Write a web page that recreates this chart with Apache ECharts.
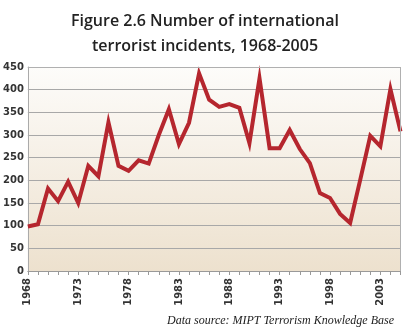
<!DOCTYPE html>
<html><head><meta charset="utf-8">
<script src="https://cdn.jsdelivr.net/npm/echarts@6/dist/echarts.min.js"></script>
<style>html,body{margin:0;padding:0;background:#fff}#c{width:410px;height:335px}</style>
</head><body><div id="c"></div>
<script>
const years = [];
for (let y = 1968; y <= 2005; y++) years.push(String(y));
const incidents = [98, 103, 182, 154, 197, 150, 232, 209, 328, 232, 221, 244, 237, 300, 357, 280, 327, 436, 378, 362, 368, 360, 282, 425, 271, 271, 311, 269, 238, 172, 161, 126, 106, 201, 298, 275, 401, 308];
const titleText = 'Figure 2.6 Number of international\nterrorist incidents, 1968-2005';
const sourceText = 'Data source: MIPT Terrorism Knowledge Base';

const chart = echarts.init(document.getElementById('c'));
chart.setOption({
  animation: false,
  title: [{
    text: titleText, left: 'center', top: 4,
    textStyle: {fontFamily: 'Open Sans', fontWeight: 600, fontSize: 16, color: '#222', lineHeight: 25}
  }, {
    text: sourceText, right: 11, top: 310,
    textStyle: {fontFamily: 'Liberation Serif', fontStyle: 'italic', fontWeight: 'normal', fontSize: 12, color: '#222'}
  }],
  grid: {
    left: 27, right: 9.5, top: 67, bottom: 64, show: true, borderWidth: 0,
    backgroundColor: new echarts.graphic.LinearGradient(0, 0, 0, 1, [
      {offset: 0, color: '#fdfcfa'}, {offset: 1, color: '#ede1ce'}])
  },
  xAxis: {
    type: 'category', data: years, boundaryGap: false,
    axisLine: {lineStyle: {color: '#999', width: 1}},
    axisTick: {interval: 0, length: 4, lineStyle: {color: '#999'}},
    axisLabel: {interval: 4, rotate: 90, fontSize: 10, fontWeight: 'bold', color: '#333', fontFamily: 'DejaVu Sans', margin: 7},
    splitLine: {show: false}
  },
  yAxis: {
    type: 'value', min: 0, max: 450, interval: 50,
    axisLine: {show: true, lineStyle: {color: '#aaa'}},
    axisTick: {show: false},
    axisLabel: {fontSize: 10, fontWeight: 'bold', color: '#333', fontFamily: 'DejaVu Sans', margin: 4},
    splitLine: {lineStyle: {color: '#a8a8a8', width: 1}}
  },
  series: [{
    type: 'line', data: incidents, symbol: 'none',
    lineStyle: {color: '#b5262e', width: 4, join: 'miter'},
    z: 3
  }, {
    type: 'line', data: [], markLine: {
      silent: true, symbol: 'none', label: {show: false},
      lineStyle: {color: '#b0b0b0', type: 'solid', width: 1},
      data: [[{coord: ['2005', 0]}, {coord: ['2005', 450]}], [{coord: ['1968', 450]}, {coord: ['2005', 450]}]]
    }
  }]
});
</script></body></html>
